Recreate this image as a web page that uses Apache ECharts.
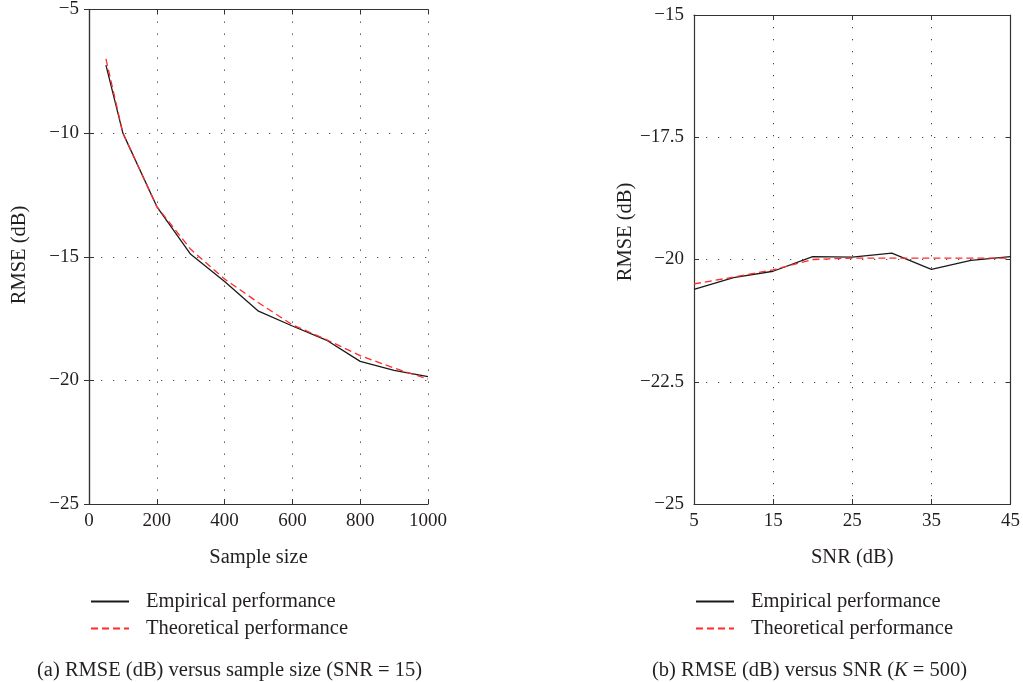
<!DOCTYPE html>
<html>
<head>
<meta charset="utf-8">
<script src="https://cdn.jsdelivr.net/npm/echarts@6/dist/echarts.min.js"></script>
<style>html,body{margin:0;padding:0;background:#fff}#c{width:1023px;height:682px}</style>
</head>
<body>
<div id="c"></div>
<script>
// ---- data ----
const sampleSizes = [50, 100, 200, 300, 400, 500, 600, 700, 800, 900, 1000];
const empiricalA  = [-7.25, -10.0, -12.97, -14.9, -16.0, -17.2, -17.8, -18.37, -19.23, -19.6, -19.85];
const theoreticalA = [-7.0, -10.0, -12.97, -14.7, -15.9, -16.86, -17.75, -18.35, -19.0, -19.5, -19.95];

const snrValues = [5, 10, 15, 20, 25, 30, 35, 40, 45];
const empiricalB  = [-20.61, -20.37, -20.24, -19.94, -19.95, -19.87, -20.2, -20.02, -19.94];
const theoreticalB = [-20.5, -20.36, -20.21, -20.0, -19.97, -19.97, -19.97, -19.97, -19.97];

const seriesNames = ['Empirical performance', 'Theoretical performance'];
const captionA = '(a) RMSE (dB) versus sample size (SNR = 15)';
const captionB = '(b) RMSE (dB) versus SNR ({i|K} = 500)';
const xNameA = 'Sample size';
const xNameB = 'SNR (dB)';
const yName = 'RMSE (dB)';

// ---- chart ----
const FONT = 'Liberation Serif';
const TXT = '#231f20';
const AX = '#333';
const BIG = 20.5;
const fmtMinus = v => String(v).replace('-', '\u2212');
const pairs = (xs, ys) => xs.map((x, i) => [x, ys[i]]);

function mainX(grid, min, max, interval, name) {
  return {
    type: 'value', gridIndex: grid, min, max, interval, position: 'bottom',
    name, nameLocation: 'middle', nameGap: 43,
    nameTextStyle: {fontFamily: FONT, fontSize: BIG, color: TXT},
    axisLine: {show: true, lineStyle: {color: AX, width: 1.2}},
    axisTick: {show: true, inside: true, length: 5, lineStyle: {color: AX}},
    axisLabel: {fontFamily: FONT, fontSize: 19, color: TXT, margin: 8, formatter: fmtMinus},
    splitLine: {show: true, lineStyle: {color: '#444', width: 1, type: [1.3, 10.7]}}
  };
}
function mainY(grid, min, max, interval) {
  return {
    type: 'value', gridIndex: grid, min, max, interval, position: 'left',
    axisLine: {show: true, lineStyle: {color: AX, width: 1.2}},
    axisTick: {show: true, inside: true, length: 5, lineStyle: {color: AX}},
    axisLabel: {fontFamily: FONT, fontSize: 19, color: TXT, margin: 10, formatter: fmtMinus},
    splitLine: {show: true, lineStyle: {color: '#555', width: 1, type: [1.3, 10.7]}}
  };
}
function boxX(grid, min, max, interval) {
  return {
    type: 'value', gridIndex: grid, min, max, interval, position: 'top',
    axisLine: {show: true, lineStyle: {color: AX, width: 1.2}},
    axisTick: {show: true, inside: true, length: 5, lineStyle: {color: AX}},
    axisLabel: {show: false}, splitLine: {show: false}
  };
}
function boxY(grid, min, max, interval) {
  return {
    type: 'value', gridIndex: grid, min, max, interval, position: 'right',
    axisLine: {show: true, lineStyle: {color: AX, width: 1.2}},
    axisTick: {show: true, inside: true, length: 5, lineStyle: {color: AX}},
    axisLabel: {show: false}, splitLine: {show: false}
  };
}
function emp(xi, yi, data) {
  return {type: 'line', name: seriesNames[0], xAxisIndex: xi, yAxisIndex: yi, data,
    symbol: 'none', z: 3, lineStyle: {color: '#1a1a1a', width: 1.3, type: 'solid'},
    itemStyle: {color: '#1a1a1a'}};
}
function theo(xi, yi, data) {
  return {type: 'line', name: seriesNames[1], xAxisIndex: xi, yAxisIndex: yi, data,
    symbol: 'none', z: 4, lineStyle: {color: '#ff2a2a', width: 1.3, type: [7, 4]},
    itemStyle: {color: '#ff2a2a'}};
}
function legend(left) {
  return {
    left, top: 591, padding: 0, orient: 'vertical', itemWidth: 38, itemHeight: 12, itemGap: 6,
    selectedMode: false, data: seriesNames,
    itemStyle: {opacity: 0},
    lineStyle: {opacity: 1},
    textStyle: {fontFamily: FONT, fontSize: BIG, color: TXT, padding: [0, 0, 0, 12]}
  };
}

const chart = echarts.init(document.getElementById('c'), null, {renderer: 'canvas'});
chart.setOption({
  animation: false,
  backgroundColor: '#fff',
  grid: [
    {left: 89, top: 7, width: 339, height: 497},
    {left: 694, top: 15, width: 319, height: 489}
  ],
  xAxis: [
    mainX(0, 0, 1000, 200, xNameA),
    mainX(1, 5, 45, 10, xNameB),
    boxX(0, 0, 1000, 200),
    boxX(1, 5, 45, 10)
  ],
  yAxis: [
    mainY(0, -25, -5, 5),
    mainY(1, -25, -15, 2.5),
    boxY(0, -25, -5, 5),
    boxY(1, -25, -15, 2.5)
  ],
  series: [
    emp(0, 0, pairs(sampleSizes, empiricalA)),
    theo(0, 0, pairs(sampleSizes, theoreticalA)),
    emp(1, 1, pairs(snrValues, empiricalB)),
    theo(1, 1, pairs(snrValues, theoreticalB))
  ],
  legend: [legend(90), legend(695)],
  title: [
    {text: captionA, left: 32, top: 655,
     textStyle: {fontFamily: FONT, fontSize: BIG, fontWeight: 'normal', color: TXT}},
    {text: captionB, left: 647, top: 655,
     textStyle: {fontFamily: FONT, fontSize: BIG, fontWeight: 'normal', color: TXT,
       rich: {i: {fontFamily: FONT, fontSize: BIG, fontStyle: 'italic', color: TXT}}}}
  ],
  graphic: [
    {type: 'text', x: 20, y: 255, rotation: Math.PI / 2,
     style: {text: yName, fontFamily: FONT, fontSize: BIG, fill: TXT, align: 'center', verticalAlign: 'middle'}},
    {type: 'text', x: 626, y: 232, rotation: Math.PI / 2,
     style: {text: yName, fontFamily: FONT, fontSize: BIG, fill: TXT, align: 'center', verticalAlign: 'middle'}}
  ]
});
</script>
</body>
</html>
